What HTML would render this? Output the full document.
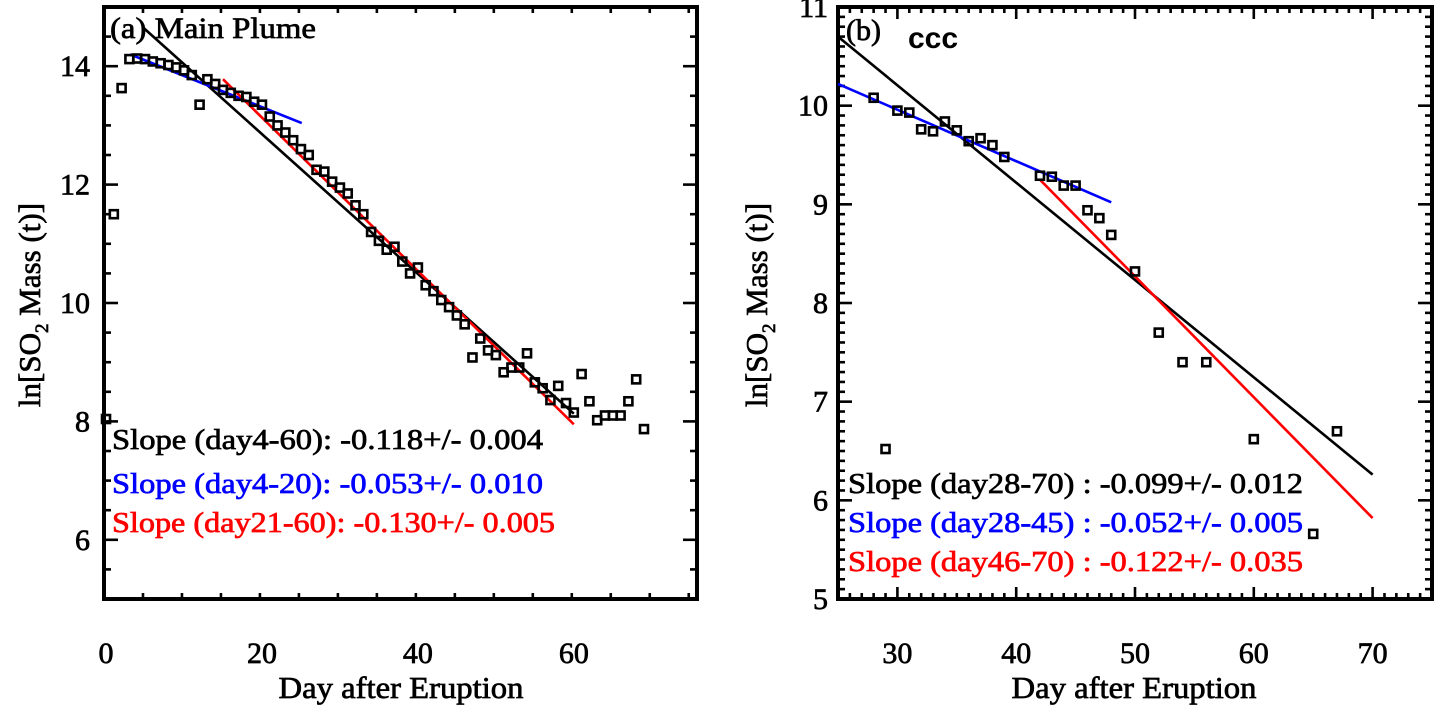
<!DOCTYPE html>
<html><head><meta charset="utf-8"><style>
html,body{margin:0;padding:0;background:#fff;}
svg{display:block;}
text{font-family:"Liberation Serif",serif;stroke-width:0.7px;}
</style></head><body>
<svg id="chart" width="1440" height="712" viewBox="0 0 1440 712" xmlns="http://www.w3.org/2000/svg"></svg>
<script>
// Panel (a) data
const daysA = [0,1,2,3,4,5,6,7,8,9,10,11,12,13,14,15,16,17,18,19,20,21,22,23,24,25,26,27,28,29,30,31,32,33,34,35,36,37,38,39,40,41,42,43,44,45,46,47,48,49,50,51,52,53,54,55,56,57,58,59,60,61,62,63,64,65,66,67,68,69];
const valsA = [8.04,11.5,13.63,14.12,14.13,14.12,14.08,14.05,14.02,13.98,13.93,13.85,13.35,13.78,13.7,13.6,13.55,13.5,13.48,13.4,13.35,13.15,13.0,12.88,12.75,12.6,12.5,12.25,12.22,12.05,11.95,11.85,11.65,11.5,11.2,11.05,10.9,10.95,10.7,10.5,10.6,10.3,10.2,10.05,9.93,9.79,9.64,9.08,9.4,9.2,9.12,8.83,8.91,8.91,9.15,8.66,8.56,8.36,8.6,8.31,8.15,8.8,8.34,8.02,8.1,8.1,8.1,8.34,8.71,7.87];
// fits: [x0, y0, x1, y1]
const fitBlackA = [4.7, 14.66, 60, 8.13];
const fitBlueA = [3.1, 14.2, 25.1, 13.04];
const fitRedA = [15, 13.78, 60, 7.95];
const xTicksA = [0,20,40,60];
const yTicksA = [6,8,10,12,14];
const labelsA = ["Slope (day4-60): -0.118+/- 0.004","Slope (day4-20): -0.053+/- 0.010","Slope (day21-60): -0.130+/- 0.005"];

// Panel (b) data
const daysB = [28,29,30,31,32,33,34,35,36,37,38,39,42,43,44,45,46,47,48,50,52,54,56,60,65,67];
const valsB = [10.08,6.52,9.95,9.93,9.76,9.74,9.84,9.75,9.64,9.67,9.6,9.48,9.29,9.28,9.19,9.19,8.94,8.86,8.69,8.32,7.7,7.4,7.4,6.62,5.66,6.7];
const fitBlackB = [25, 10.70, 70, 6.26];
const fitBlueB = [25, 10.22, 48, 9.02];
const fitRedB = [42, 9.25, 70, 5.82];
const xTicksB = [30,40,50,60,70];
const yTicksB = [5,6,7,8,9,10,11];
const labelsB = ["Slope (day28-70) : -0.099+/- 0.012","Slope (day28-45) : -0.052+/- 0.005","Slope (day46-70) : -0.122+/- 0.035"];

const NS = "http://www.w3.org/2000/svg";
const svg = document.getElementById('chart');
function mk(tag, attrs, parent){
  const e = document.createElementNS(NS, tag);
  for (const k in attrs) e.setAttribute(k, attrs[k]);
  (parent||svg).appendChild(e);
  return e;
}

function panel(cfg){
  const g = mk('g', {});
  
  
  const L=cfg.L, R=cfg.R, T=cfg.T, B=cfg.B;
  const sx = v => L + (v - cfg.xmin) / (cfg.xmax - cfg.xmin) * (R - L);
  const sy = v => B - (v - cfg.ymin) / (cfg.ymax - cfg.ymin) * (B - T);
  const tg = mk('g', {stroke:'#000','stroke-width':2.6}, g);
  
  
  for (let v = cfg.xmin; v <= cfg.xmax + 1e-9; v += cfg.xMinor){
    const isMaj = Math.abs(((v - cfg.xMajor0) / cfg.xMajor) - Math.round((v - cfg.xMajor0) / cfg.xMajor)) < 1e-6;
    const len = isMaj ? 12 : 6; const x = sx(v);
    mk('line',{x1:x,y1:B,x2:x,y2:B-len},tg); mk('line',{x1:x,y1:T,x2:x,y2:T+len},tg);
  }
  for (let v = cfg.ymin; v <= cfg.ymax + 1e-9; v += cfg.yMinor){
    const isMaj = Math.abs(v/cfg.yMajor - Math.round(v/cfg.yMajor)) < 1e-6;
    const len = isMaj ? 14 : 7; const y = sy(v);
    mk('line',{x1:L,y1:y,x2:L+len,y2:y},tg); mk('line',{x1:R,y1:y,x2:R-len,y2:y},tg);
  }
  const frame = mk('rect',{x:L,y:T,width:R-L,height:B-T,fill:'none',stroke:'#000','stroke-width':4},g);
  
  
  cfg.xTicks.forEach(v=>{
    const t = mk('text',{x:sx(v),y:663,'text-anchor':'middle','font-size':30,stroke:'#000'},g);
    t.textContent = v;
    
    
  });
  cfg.yTicks.forEach(v=>{
    const t = mk('text',{x:cfg.yLabX,y:sy(v)+10,'text-anchor':'end','font-size':30,stroke:'#000'},g);
    t.textContent = v;
    
    
  });
  const xt = mk('text',{x:cfg.xTitleX,y:698,'text-anchor':'middle','font-size':31,stroke:'#000',textLength:245,lengthAdjust:'spacingAndGlyphs'},g);
  xt.textContent = 'Day after Eruption';
  
  
  const yt = mk('text',{x:0,y:0,'text-anchor':'middle','font-size':31,stroke:'#000',transform:`translate(${cfg.yTitleX},305) rotate(-90)`},g);
  yt.innerHTML = 'ln[SO<tspan font-size="19" dy="8">2</tspan><tspan dy="-8"> Mass (t)]</tspan>';
  
  
  [[cfg.fits[0],'#000','fit-line-all'],[cfg.fits[1],'#0000ff','fit-line-early'],[cfg.fits[2],'#ff0000','fit-line-late']].forEach(([f,c,n])=>{
    const l = mk('line',{x1:sx(f[0]),y1:sy(f[1]),x2:sx(f[2]),y2:sy(f[3]),stroke:c,'stroke-width':2.6},g);
    
    
  });
  const pg = mk('g',{fill:'none',stroke:'#000','stroke-width':2.6},g);
  
  
  cfg.days.forEach((d,i)=>{
    const r = mk('rect',{x:sx(d)-4,y:sy(cfg.vals[i])-4,width:8,height:8},pg);
    
    
  });
  const cols = ['#000','#0000ff','#ff0000'];
  cfg.labels.forEach((s,i)=>{
    const t = mk('text',{x:cfg.labX,y:cfg.labY[i],'font-size':29,fill:cols[i],stroke:cols[i],textLength:cfg.labW[i],lengthAdjust:'spacingAndGlyphs'},g);
    t.textContent = s;
    
    
  });
  return g;
}

panel({name:'panel-a-main-plume',L:104,R:697,T:7,B:599,xmin:-0.26,xmax:75.8,ymin:5,ymax:15,
  xMinor:5,xMajor:20,xMajor0:0,yMinor:0.5,yMajor:2,xTicks:xTicksA,yTicks:yTicksA,yLabX:90,
  xTitleX:401,yTitleX:40,fits:[fitBlackA,fitBlueA,fitRedA],days:daysA,vals:valsA,
  labels:labelsA,labX:112,labY:[449,493,532],labW:[431,431,443]});
panel({name:'panel-b-ccc',L:838,R:1432,T:7,B:599,xmin:25,xmax:75,ymin:5,ymax:11,
  xMinor:1,xMajor:10,xMajor0:0,yMinor:0.1,yMajor:1,xTicks:xTicksB,yTicks:yTicksB,yLabX:828,
  xTitleX:1134,yTitleX:767,fits:[fitBlackB,fitBlueB,fitRedB],days:daysB,vals:valsB,
  labels:labelsB,labX:848,labY:[493,532,571],labW:[455,455,455]});

const ta = mk('text',{x:110,y:38,'font-size':30,stroke:'#000',textLength:206,lengthAdjust:'spacingAndGlyphs'});
ta.textContent = '(a) Main Plume';


const tb = mk('text',{x:846,y:40,'font-size':30,stroke:'#000'});
tb.textContent = '(b)';


const tc = mk('text',{x:908,y:48,style:'font-family:"Liberation Sans",sans-serif;font-size:30px;font-weight:bold;stroke-width:0'});
tc.textContent = 'ccc';


</script>
</body></html>
